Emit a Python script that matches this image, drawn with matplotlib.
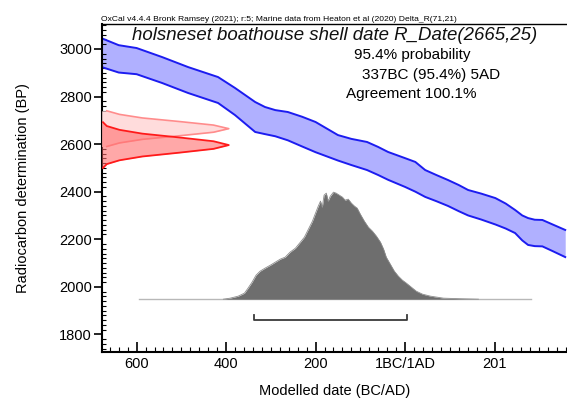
import matplotlib
matplotlib.use('Agg')
import matplotlib.pyplot as plt
from matplotlib.ticker import MultipleLocator, FixedLocator
import numpy as np

plt.rcParams['font.family'] = ['Liberation Sans', 'DejaVu Sans']

# calibration curve band (cal years BC negative, BP)
cal_years = [-678, -640, -600, -543, -485, -418, -380, -335, -313, -290, -262, -230,
             -200, -150, -120, -85, -60, -38, 0, 23, 45, 70, 96, 120, 141, 170, 202,
             225, 246, 262, 275, 290, 307, 330, 358]
cal_upper = [3045, 3016, 3004, 2966, 2924, 2882, 2836, 2777, 2756, 2743, 2735, 2715,
             2693, 2638, 2622, 2609, 2588, 2567, 2541, 2525, 2491, 2470, 2449, 2428,
             2407, 2392, 2373, 2350, 2323, 2300, 2289, 2282, 2281, 2262, 2239]
cal_lower = [2924, 2901, 2894, 2857, 2815, 2773, 2722, 2651, 2642, 2633, 2616, 2590,
             2566, 2531, 2512, 2491, 2470, 2450, 2420, 2400, 2378, 2360, 2340, 2318,
             2300, 2283, 2262, 2245, 2226, 2195, 2176, 2171, 2170, 2150, 2125]

# radiocarbon date distributions (BP, relative prob)
rel_prob = [0.04, 0.14, 0.32, 0.61, 0.88, 1.0, 0.88, 0.61, 0.32, 0.14, 0.04]
bp_raw = [2590, 2605, 2620, 2635, 2650, 2665, 2680, 2695, 2710, 2725, 2740]
dark_prob = [0.01, 0.04, 0.14, 0.32, 0.61, 0.88, 1.0, 0.88, 0.61, 0.32, 0.14, 0.04, 0.01]
bp_marine = [2500, 2516, 2532, 2548, 2564, 2580, 2596, 2612, 2628, 2644, 2660, 2676, 2692]

# calibrated (modelled) date posterior
post_years = [-406, -391, -373, -359, -351, -342, -333, -324, -313, -301, -290, -279,
              -268, -257, -245, -234, -225, -216, -207, -201, -194, -189, -185, -181,
              -176, -172, -167, -160, -154, -147, -140, -134, -127, -120, -113, -107,
              -100, -91, -82, -73, -64, -55, -48, -42, -33, -24, -15, -6, 3, 14, 25,
              39, 57, 86, 119, 164]
post_prob = [0, 1, 3, 6, 11, 17, 24, 28, 31, 34, 37, 40, 42, 47, 51, 57, 62, 70, 78,
             85, 93, 98, 92, 104, 106, 98, 103, 107, 106, 104, 102, 99, 100, 96, 93,
             91, 85, 78, 72, 68, 63, 57, 50, 42, 35, 28, 23, 19, 16, 12, 8, 5, 3, 1,
             0.5, 0]

range_95 = (-337, 5)
baseline_span = (-595, 282)

xticks = [-600, -400, -200, 0, 200]
xticklabels = ['600', '400', '200', '1BC/1AD', '201']

fig = plt.figure(figsize=(5.67, 3.99), dpi=100)
ax = fig.add_axes([0.1794, 0.1185, 0.8206, 0.8213])
xmin, xmax = -678, 362
ax.set_xlim(xmin, xmax)
ax.set_ylim(1727, 3105)

# calibration curve
ax.fill_between(cal_years, cal_lower, cal_upper, color='#b0b0ff', lw=0, zorder=1)
ax.plot(cal_years, cal_upper, color='#1c1cf0', lw=1.4, zorder=2)
ax.plot(cal_years, cal_lower, color='#1c1cf0', lw=1.4, zorder=2)

# red distributions on the y axis
peak_w = 284
rp = np.array(rel_prob)
dp = np.array(dark_prob)
ax.fill_betweenx(bp_raw, xmin, xmin + rp * peak_w, color='#ffdcdc', lw=0, zorder=3)
ax.plot(xmin + rp * peak_w, bp_raw, color='#ff8c8c', lw=1.2, zorder=3)
ax.fill_betweenx(bp_marine, xmin, xmin + dp * peak_w, color='#ff6e6e', alpha=0.6,
                 lw=0, zorder=4)
ax.plot(xmin + dp * peak_w, bp_marine, color='#ff1a1a', lw=1.3, zorder=4)

# posterior
base = 1948
pp = np.array(post_prob) / max(post_prob) * 450
ax.plot(baseline_span, [base, base], color='#b8b8b8', lw=1, zorder=3)
ax.fill_between(post_years, base, base + pp, color='#6e6e6e', lw=0, zorder=4)
ax.plot(post_years, base + pp, color='#8c8c8c', lw=0.6, zorder=4)

# 95.4% range bracket
ax.plot([range_95[0], range_95[0], range_95[1], range_95[1]],
        [1881, 1860, 1860, 1881], color='#3a3a3a', lw=1.3, zorder=5)

# texts
fs = 10.5
ax.text(-157, 3058, 'holsneset boathouse shell date R_Date(2665,25)',
        ha='center', va='center', fontsize=13.4, style='italic', color='#111111')
ax.text(15, 2975, '95.4% probability', ha='center', va='center', fontsize=11)
ax.text(59, 2891, '337BC (95.4%) 5AD', ha='center', va='center', fontsize=11)
ax.text(13, 2811, 'Agreement 100.1%', ha='center', va='center', fontsize=11)
fig.text(101 / 567, 1 - 21 / 399,
         'OxCal v4.4.4 Bronk Ramsey (2021); r:5; Marine data from Heaton et al (2020) Delta_R(71,21)',
         fontsize=6.1, ha='left', va='baseline')

# axes styling
for s in ['left', 'bottom']:
    ax.spines[s].set_linewidth(1.5)
ax.spines['top'].set_linewidth(1.0)
ax.spines['right'].set_visible(False)

ax.xaxis.set_major_locator(FixedLocator(xticks))
ax.set_xticklabels(xticklabels)
ax.xaxis.set_minor_locator(MultipleLocator(20))
ax.yaxis.set_major_locator(MultipleLocator(200))
ax.yaxis.set_minor_locator(MultipleLocator(20))
ax.tick_params(axis='x', which='major', direction='in', length=7, width=1.2,
               labelsize=fs, pad=4)
ax.tick_params(axis='x', which='minor', direction='in', length=3.5, width=0.8)
ax.tick_params(axis='y', which='major', direction='out', length=6, width=1.2,
               labelsize=fs, pad=1)
ax.tick_params(axis='y', which='minor', direction='in', length=3, width=0.8)
ax.tick_params(top=False, right=False)

ax.set_xlabel('Modelled date (BC/AD)', fontsize=fs, labelpad=9)
ax.set_ylabel('Radiocarbon determination (BP)', fontsize=fs, labelpad=21)

fig.savefig('out.png', dpi=100)
